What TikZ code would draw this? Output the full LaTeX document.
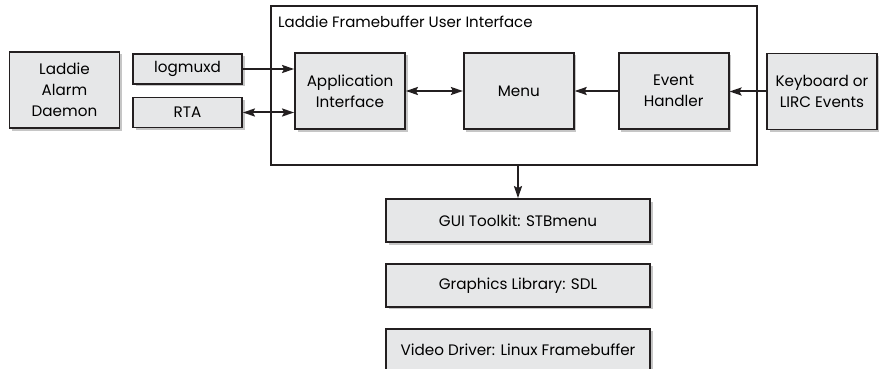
\documentclass[tikz,border=0pt]{standalone}
\usepackage{fontspec}
\setmainfont{Poppins}
\usepackage{tikz}
\usetikzlibrary{positioning,arrows.meta,shadows}
\definecolor{boxfill}{RGB}{230,231,232}
\definecolor{ink}{RGB}{35,31,32}
\tikzset{
  box/.style={draw=ink, line width=1.8pt, fill=boxfill, align=center,
              font=\fontsize{15.2}{21}\selectfont, inner sep=0pt,
              drop shadow={shadow xshift=2.5pt, shadow yshift=-2.5pt, opacity=0.45}},
  bigbox/.style={box, minimum width=110pt, minimum height=76pt},
  smallbox/.style={box, minimum width=109pt, minimum height=30pt},
  layerbox/.style={box, minimum width=264pt, minimum height=43pt},
  arrow/.style={-{Stealth[length=12pt,width=8pt,inset=2pt]}, line width=2pt, ink},
  twoarrow/.style={{Stealth[length=12pt,width=8pt,inset=2pt]}-{Stealth[length=12pt,width=8pt,inset=2pt]}, line width=2pt, ink},
}
\begin{document}
\begin{tikzpicture}[x=1pt, y=-1pt]
  \useasboundingbox (0,0) rectangle (879,369);

  % Framebuffer UI
  \node[draw=ink, line width=1.5pt, minimum width=486pt, minimum height=159pt] (ui) at (514,85.5) {};
  \node[anchor=north west, font=\fontsize{15}{18}\selectfont, inner sep=0pt] (title) at (278,16) {Laddie Framebuffer User Interface};
  \node[bigbox] (app) at (350,91) {Application\\Interface};
  \node[bigbox, right=57pt of app] (menu) {Menu};
  \node[bigbox, right=43pt of menu] (event) {Event\\Handler};

  % Outside
  \node[bigbox] (alarm) at (64.5,90) {Laddie\\Alarm\\Daemon};
  \node[smallbox] (logmuxd) at (187.5,69) {logmuxd};
  \node[smallbox] (rta) at (187.5,112.5) {RTA};
  \node[bigbox] (keys) at (822,91.5) {Keyboard or\\LIRC Events};

  \draw[arrow] (logmuxd.east) -- (logmuxd.east -| app.west);
  \draw[twoarrow] (rta.east) -- (rta.east -| app.west);
  \draw[twoarrow] (app) -- (menu);
  \draw[arrow] (event) -- (menu);
  \draw[arrow] (keys.west) -- (keys.west -| event.east);

  % Layers
  \node[layerbox] (gui) at (518,220.5) {GUI Toolkit: STBmenu};
  \node[layerbox, below=20pt of gui] (sdl) {Graphics Library: SDL};
  \node[layerbox, below=20pt of sdl] (fb) {Video Driver: Linux Framebuffer};

  \draw[arrow] (gui.north |- ui.south) -- (gui.north);
\end{tikzpicture}
\end{document}
